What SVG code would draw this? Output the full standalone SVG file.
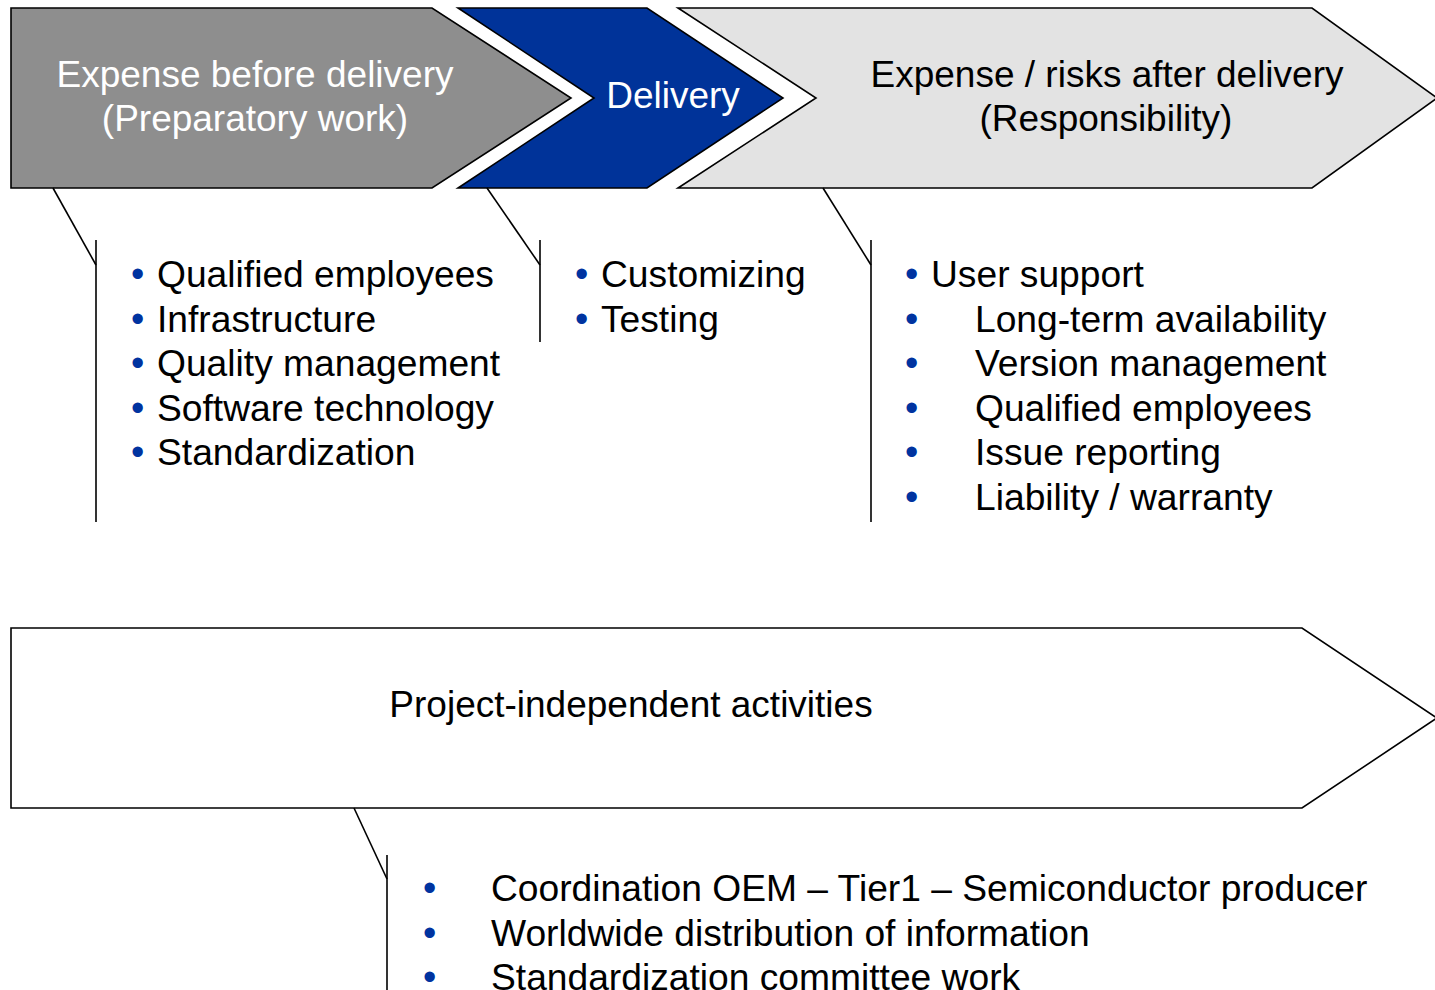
<svg xmlns="http://www.w3.org/2000/svg" width="1435" height="990" viewBox="0 0 1435 990">
<style>
.shape{stroke:#000;stroke-width:1.6;stroke-linejoin:miter}
.t{font-family:"Liberation Sans",Arial,sans-serif;font-size:37.2px;fill:#000}
.h{font-family:"Liberation Sans",Arial,sans-serif;font-size:37px;text-anchor:middle}
.b{font-family:"Liberation Sans",Arial,sans-serif;font-size:38px;fill:#0033a0}
.c{stroke:#000;stroke-width:1.6;fill:none}
</style>
<rect width="1435" height="990" fill="#fff"/>
<g id="before">
<polygon class="shape" fill="#8e8e8e" points="11,8 432,8 571,98 432,188 11,188"/>
<text class="h" fill="#fff" x="255" y="87">Expense before delivery</text>
<text class="h" fill="#fff" x="255" y="131">(Preparatory work)</text>
</g>
<g id="delivery">
<polygon class="shape" fill="#003399" points="458,8 647,8 783,98 647,188 458,188 594,98"/>
<text class="h" fill="#fff" x="673" y="108">Delivery</text>
</g>
<g id="after">
<polygon class="shape" fill="#e3e3e3" points="678,8 1312,8 1437,98 1312,188 678,188 816,98"/>
<text class="h" fill="#000" x="1107" y="87">Expense / risks after delivery</text>
<text class="h" fill="#000" x="1106" y="131">(Responsibility)</text>
</g>
<g id="independent">
<polygon class="shape" fill="#fff" points="11,628 1302,628 1437,718 1302,808 11,808"/>
<text class="h" fill="#000" x="631" y="717">Project-independent activities</text>
</g>
<g id="connectors">
<polyline class="c" points="53,188 96,265"/>
<line class="c" x1="96" y1="240" x2="96" y2="522"/>
<polyline class="c" points="487,188 540,265"/>
<line class="c" x1="540" y1="240" x2="540" y2="342"/>
<polyline class="c" points="823,188 871,265"/>
<line class="c" x1="871" y1="240" x2="871" y2="522"/>
<polyline class="c" points="354,808 387,879"/>
<line class="c" x1="387" y1="855" x2="387" y2="990"/>
</g>
<g id="list-before">
<text class="b" x="131" y="287">•</text><text class="t" x="157" y="287">Qualified employees</text>
<text class="b" x="131" y="332">•</text><text class="t" x="157" y="332">Infrastructure</text>
<text class="b" x="131" y="376">•</text><text class="t" x="157" y="376">Quality management</text>
<text class="b" x="131" y="421">•</text><text class="t" x="157" y="421">Software technology</text>
<text class="b" x="131" y="465">•</text><text class="t" x="157" y="465">Standardization</text>
</g>
<g id="list-delivery">
<text class="b" x="575" y="287">•</text><text class="t" x="601" y="287">Customizing</text>
<text class="b" x="575" y="332">•</text><text class="t" x="601" y="332">Testing</text>
</g>
<g id="list-after">
<text class="b" x="905" y="287">•</text><text class="t" x="931" y="287">User support</text>
<text class="b" x="905" y="332">•</text><text class="t" x="975" y="332">Long-term availability</text>
<text class="b" x="905" y="376">•</text><text class="t" x="975" y="376">Version management</text>
<text class="b" x="905" y="421">•</text><text class="t" x="975" y="421">Qualified employees</text>
<text class="b" x="905" y="465">•</text><text class="t" x="975" y="465">Issue reporting</text>
<text class="b" x="905" y="510">•</text><text class="t" x="975" y="510">Liability / warranty</text>
</g>
<g id="list-independent">
<text class="b" x="423" y="901">•</text><text class="t" x="491" y="901">Coordination OEM – Tier1 – Semiconductor producer</text>
<text class="b" x="423" y="946">•</text><text class="t" x="491" y="946">Worldwide distribution of information</text>
<text class="b" x="423" y="990">•</text><text class="t" x="491" y="990">Standardization committee work</text>
</g>
</svg>
